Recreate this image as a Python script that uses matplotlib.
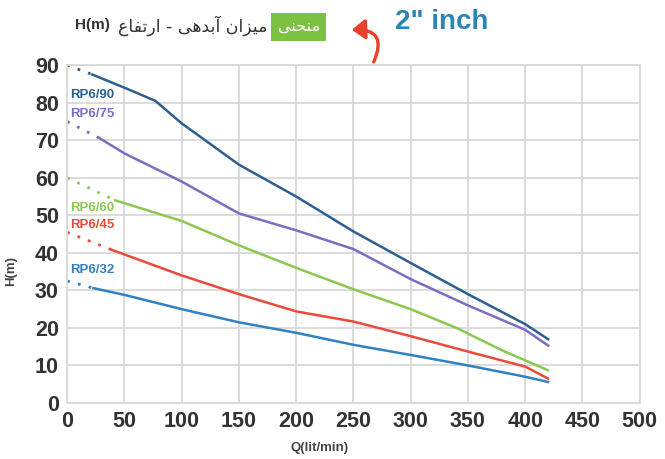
import matplotlib
matplotlib.use('Agg')
import matplotlib.pyplot as plt
from matplotlib.patches import FancyArrowPatch

plt.rcParams['font.family'] = ['Liberation Sans', 'DejaVu Sans']

# pump curves, flow Q (lit/min) vs head H (m)
names = ['RP6/90', 'RP6/75', 'RP6/60', 'RP6/45', 'RP6/32']
colors = ['#2d5f91', '#7d6cc4', '#8cc84f', '#ea4a3a', '#2f82c2']
h_zero = [90, 75, 60, 45.5, 32.5]   # shut-off head (dotted part starts here)

q90 = [22, 50, 77, 100, 150, 200, 250, 300, 350, 400, 420]
h90 = [87.5, 84, 80.5, 74.5, 63.5, 55, 45.7, 37.3, 29, 21, 17]
q75 = [28, 50, 100, 150, 200, 250, 300, 350, 400, 420]
h75 = [70.6, 66.5, 59, 50.5, 46, 41, 33, 26, 19.5, 15.3]
q60 = [42, 100, 150, 200, 250, 300, 340, 380, 420]
h60 = [54, 48.5, 42, 36, 30.3, 25, 20, 14, 8.7]
q45 = [39, 100, 150, 200, 250, 300, 350, 400, 420]
h45 = [40.8, 34, 29, 24.4, 21.7, 17.8, 13.7, 9.7, 6.5]
q32 = [23, 50, 100, 150, 200, 250, 300, 350, 400, 420]
h32 = [30.6, 28.8, 25, 21.5, 18.7, 15.5, 12.8, 10, 7, 5.6]

qs = [q90, q75, q60, q45, q32]
hs = [h90, h75, h60, h45, h32]
label_y = [82, 77, 52, 47.5, 35.5]

xticks = [0, 50, 100, 150, 200, 250, 300, 350, 400, 450, 500]
yticks = [0, 10, 20, 30, 40, 50, 60, 70, 80, 90]

fig = plt.figure(figsize=(6.65, 4.59), dpi=100)
ax = fig.add_axes([0.101, 0.122, 0.861, 0.736])

for q, h, h0, c, n, ly in zip(qs, hs, h_zero, colors, names, label_y):
    ax.plot([0, q[0]], [h0, h[0]], color=c, lw=2, ls=(0, (1, 3)), solid_capstyle='round')
    ax.plot(q, h, color=c, lw=1.8)
    ax.text(3, ly, n, color=c, fontsize=9.5, fontweight='bold', va='center', ha='left')

ax.set_xlim(0, 500)
ax.set_ylim(0, 90)
ax.set_xticks(xticks)
ax.set_yticks(yticks)
ax.grid(True, color='#d9d9d9', lw=1.3)
ax.set_axisbelow(True)
for s in ax.spines.values():
    s.set_color('#d9d9d9')
    s.set_linewidth(1.3)
ax.tick_params(length=0, labelsize=15.5, labelcolor='#333333', pad=6)
for t in ax.get_xticklabels() + ax.get_yticklabels():
    t.set_fontweight('bold')

ax.set_xlabel('Q(lit/min)', fontsize=9.5, fontweight='bold', color='#444444')
ax.xaxis.set_label_coords(0.44, -0.115)
ax.set_ylabel('H(m)', fontsize=9.5, fontweight='bold', color='#444444')
ax.yaxis.set_label_coords(-0.088, 0.39)

# header
fig.text(0.113, 0.945, 'H(m)', fontsize=11, fontweight='bold', color='#333333', va='center')
fa = '\uFEC9\uFE8E\uFED4\uFE97\uFEAD\uFE8D - \uFEF0\uFEEB\uFEAA\uFE91\uFE81 \uFEE5\uFE8D\uFEB0\uFEF4\uFEE3'
fig.text(0.178, 0.945, fa, fontsize=12.5, color='#333333', va='center', family=['DejaVu Sans'])
fig.text(0.449, 0.942, '\uFEF0\uFEE8\uFEA4\uFEE8\uFEE3', fontsize=11.5, color='white',
         va='center', ha='center', family=['DejaVu Sans'],
         bbox=dict(boxstyle='square,pad=0.4', fc='#7dc142', ec='none'))
arr = FancyArrowPatch((0.562, 0.865), (0.529, 0.935), transform=fig.transFigure,
                      connectionstyle='arc3,rad=0.8', arrowstyle='-|>,head_length=8,head_width=6',
                      color='#e8402a', lw=2.4, shrinkA=0, shrinkB=0)
fig.patches.append(arr)
fig.text(0.594, 0.952, '2" inch', fontsize=20, fontweight='bold', color='#2b85b5', va='center')

fig.savefig('out.png', dpi=100)
